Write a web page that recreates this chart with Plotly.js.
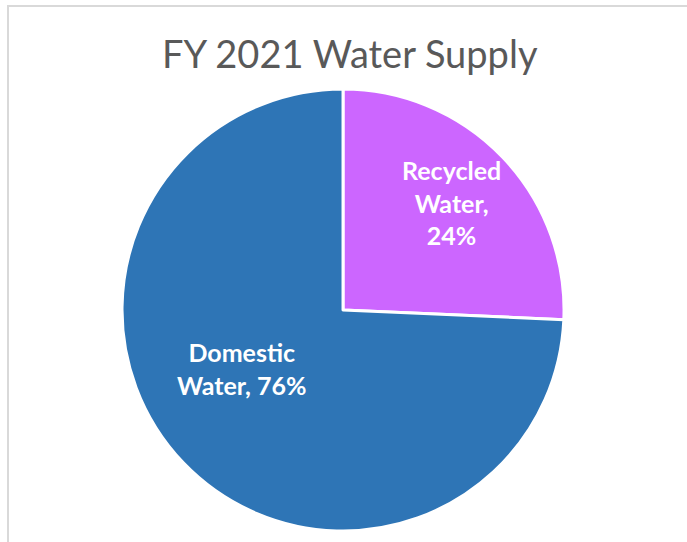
<!DOCTYPE html>
<html>
<head>
<meta charset="utf-8">
<script src="https://cdn.plot.ly/plotly-3.0.1.min.js"></script>
<style>
html,body{margin:0;padding:0;width:687px;height:542px;overflow:hidden;background:#fff;}
#frame{position:absolute;left:7px;top:5px;width:720px;height:600px;border:2px solid #d9d9d9;box-sizing:border-box;}
#chart{position:absolute;left:0;top:0;width:687px;height:542px;}
</style>
</head>
<body>
<div id="frame"></div>
<div id="chart"></div>
<script>
// Slice sizes as drawn in the picture (angles measured), and the labels as printed
const categories = ["Recycled Water", "Domestic Water"];
const sliceValues = [25.7, 74.3];
const labelPercents = ["24%", "76%"];
const labelLines = ["Recycled<br>Water,<br>", "Domestic<br>Water, "];
const sliceColors = ["#CC66FF", "#2E75B6"];

const trace = {
  type: "pie",
  labels: categories,
  values: sliceValues,
  textinfo: "none",
  sort: false,
  direction: "clockwise",
  rotation: 0,
  marker: {colors: sliceColors, line: {color: "#ffffff", width: 3}},
  hoverinfo: "none",
  showlegend: false,
  domain: {x: [0.1776, 0.821], y: [0.0203, 0.8358]}
};

const labelPos = [{x: 0.6565, y: 0.627}, {x: 0.352, y: 0.321}];
const annotations = categories.map((c, i) => ({
  xref: "paper", yref: "paper",
  x: labelPos[i].x, y: labelPos[i].y,
  xanchor: "center", yanchor: "middle",
  showarrow: false,
  align: "center",
  text: "<b>" + labelLines[i] + labelPercents[i] + "</b>",
  font: {family: "Lato, 'Open Sans', sans-serif", size: 25, color: "#ffffff"}
}));

const layout = {
  width: 687, height: 542,
  margin: {l: 0, r: 0, t: 0, b: 0},
  paper_bgcolor: "rgba(0,0,0,0)",
  plot_bgcolor: "rgba(0,0,0,0)",
  title: {
    text: "FY 2021 Water Supply",
    font: {family: "Lato, 'Open Sans', sans-serif", size: 38, color: "#595959"},
    x: 0.509, xanchor: "center", y: 0.9, yanchor: "middle"
  },
  annotations: annotations,
  showlegend: false
};

Plotly.newPlot("chart", [trace], layout, {displayModeBar: false, staticPlot: true});
</script>
</body>
</html>
